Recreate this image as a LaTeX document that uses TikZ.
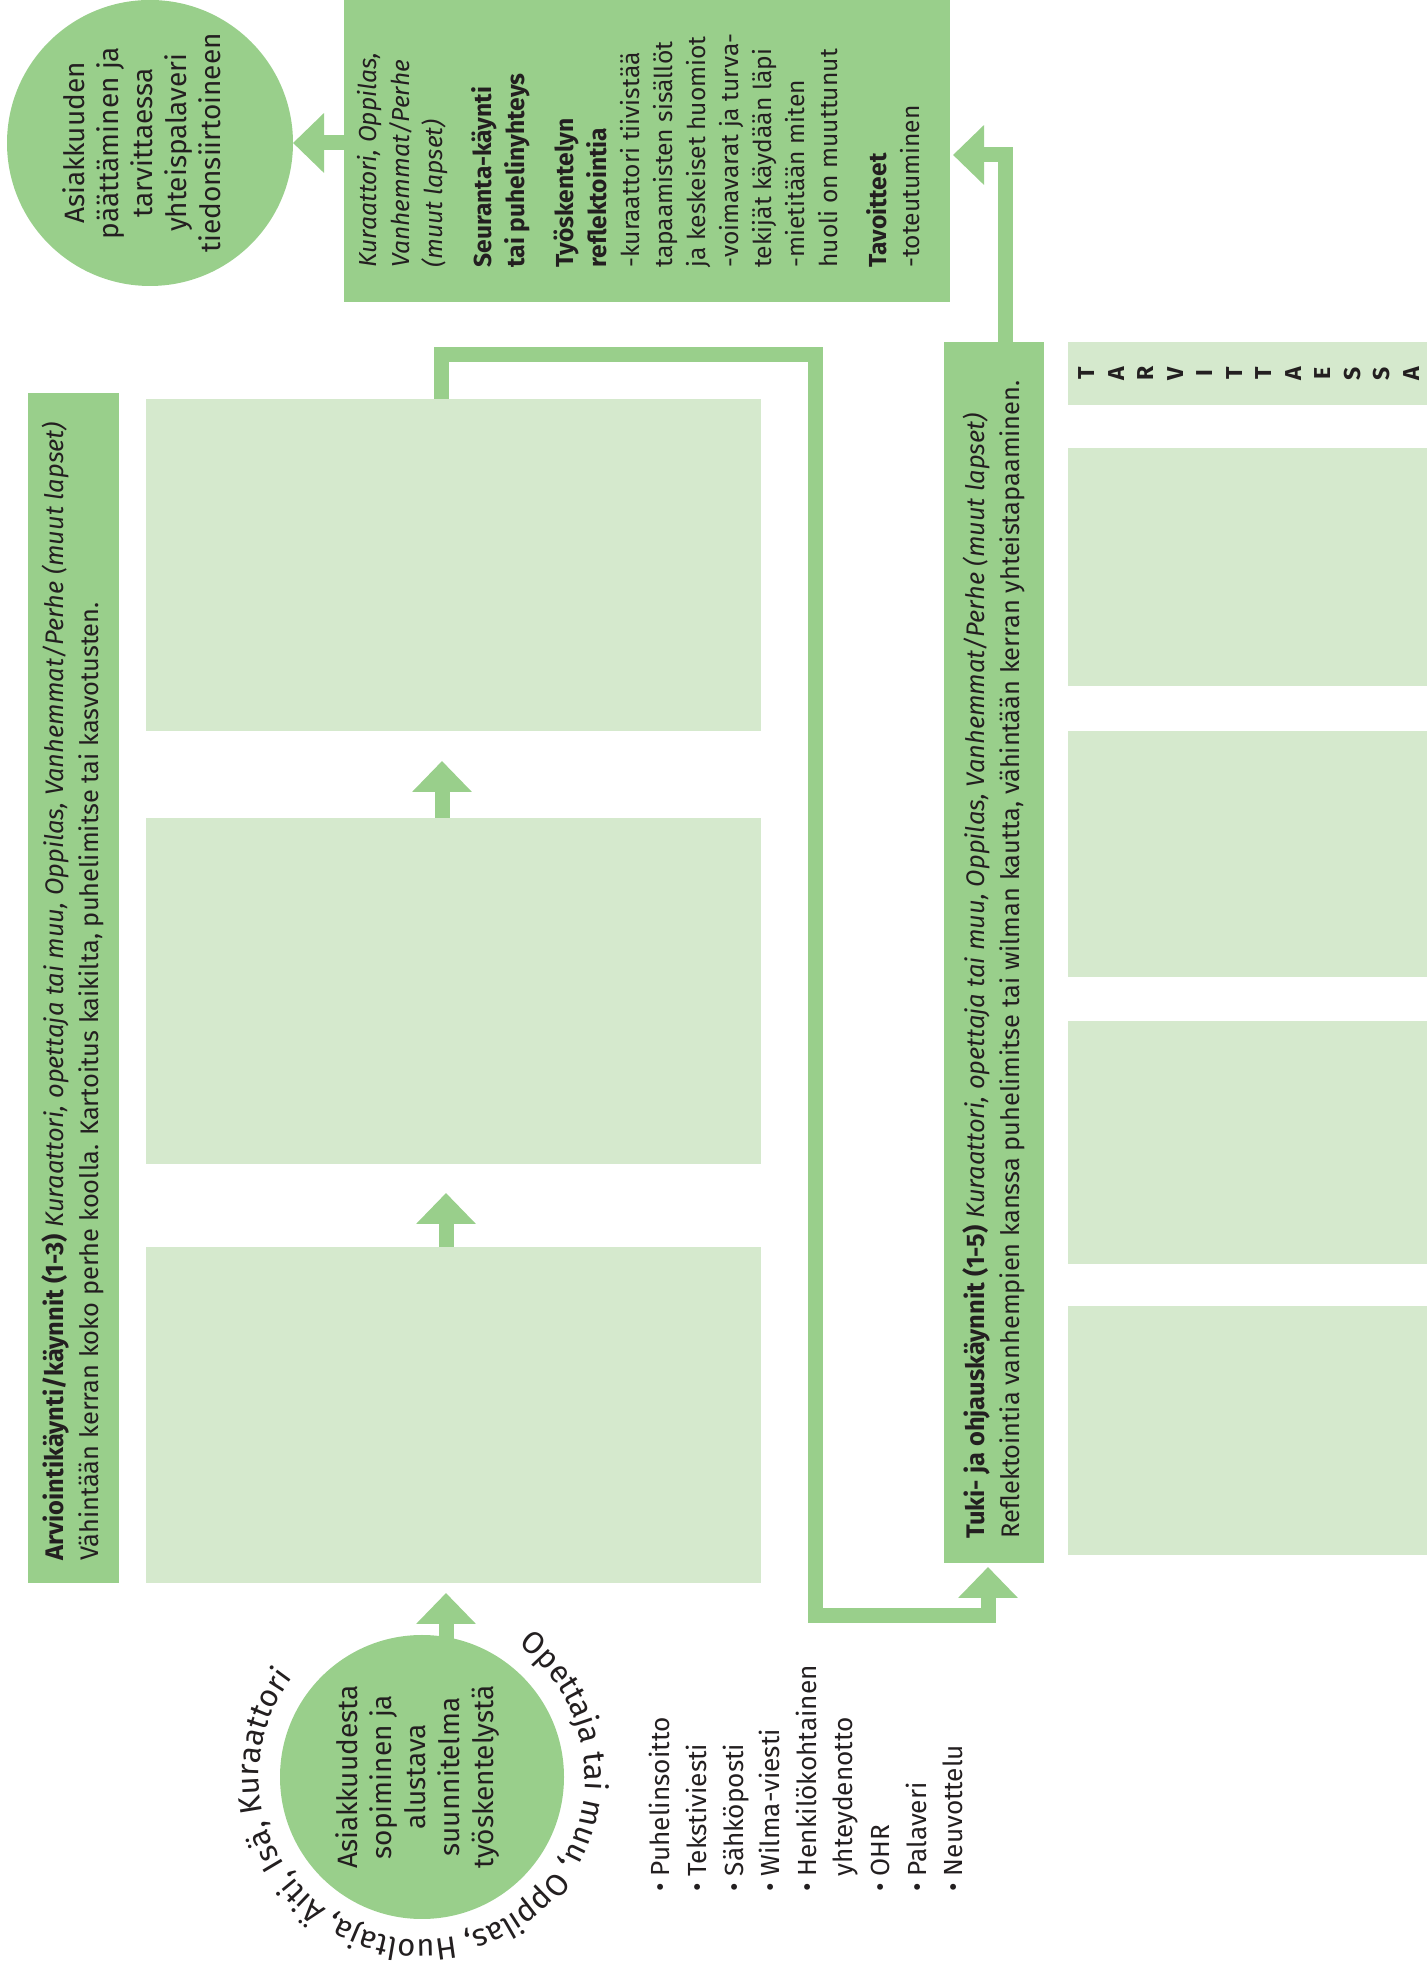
\documentclass[tikz,border=0pt]{standalone}
\usepackage{fontspec}
\setmainfont{Fira Sans}
\usetikzlibrary{arrows.meta,positioning,calc,decorations.text}
\definecolor{dkgreen}{RGB}{153,207,139}
\definecolor{ltgreen}{RGB}{213,233,205}
\definecolor{ink}{RGB}{35,31,32}

\begin{document}
\begin{tikzpicture}[x=0.5pt, y=0.5pt,
    dkbox/.style={fill=dkgreen, inner sep=0pt, outer sep=0pt},
    ltbox/.style={fill=ltgreen, inner sep=0pt, outer sep=0pt, minimum width=307.5pt},
    rbox/.style={fill=ltgreen, inner sep=0pt, outer sep=0pt, minimum width=179.5pt},
    disc/.style={circle, fill=dkgreen, inner sep=0pt, outer sep=0pt},
    vtext/.style={rotate=90, text=ink, inner sep=0pt, align=left, font=\fontsize{12.7}{17.5}\selectfont},
    disctext/.style={rotate=90, text=ink, inner sep=0pt, align=center, font=\fontsize{14}{17}\selectfont},
    tletter/.style={rotate=90, text=ink, inner sep=0pt, font=\bfseries\fontsize{11.5}{11.5}\selectfont},
    flow/.style={draw=dkgreen, line width=7.5pt, -{Triangle[length=15.5pt, width=29pt]}}]
  \useasboundingbox (0,0) rectangle (1427,1970);

  % top row
  \node[disc, minimum size=143pt] (endc) at (150,1827) {};
  \node[disctext] (endtxt) at ([xshift=-4pt]endc.center) {Asiakkuuden\\päättäminen ja\\tarvittaessa\\yhteispalaveri\\tiedonsiirtoineen};
  \node[dkbox, minimum width=303pt, minimum height=151pt] (followup) at (647,1819) {};
  \node[vtext, font=\fontsize{12.3}{16.5}\selectfont, anchor=north west] (followtxt) at ([xshift=6.5pt, yshift=17pt]followup.south west) {%
    \textit{Kuraattori, Oppilas,}\\
    \textit{Vanhemmat/Perhe}\\
    \textit{(muut lapset)}\\[8pt]
    \textbf{Seuranta-käynti}\\
    \textbf{tai puhelinyhteys}\\[8pt]
    \textbf{Työskentelyn}\\
    \textbf{reflektointia}\\
    -kuraattori tiivistää\\
    tapaamisten sisällöt\\
    ja keskeiset huomiot\\
    -voimavarat ja turva-\\
    tekijät käydään läpi\\
    -mietitään miten\\
    huoli on muuttunut\\[8pt]
    \textbf{Tavoitteet}\\
    -toteutuminen};

  % assessment visits
  \node[dkbox, minimum width=45.5pt, minimum height=595pt] (arvio) at (73.5,982) {};
  \node[vtext, anchor=north west] (arviotxt) at ([xshift=6.5pt, yshift=11pt]arvio.south west) {\textbf{Arviointikäynti/käynnit (1-3)} \textit{Kuraattori, opettaja tai muu, Oppilas, Vanhemmat/Perhe (muut lapset)}\\Vähintään kerran koko perhe koolla. Kartoitus kaikilta, puhelimitse tai kasvotusten.};
  \node[ltbox, minimum height=166pt] (arv3) at (453.5,1405) {};
  \node[ltbox, minimum height=173pt, below=43.5pt of arv3] (arv2) {};
  \node[ltbox, minimum height=168pt, below=41.5pt of arv2] (arv1) {};

  % support visits
  \node[dkbox, minimum width=50pt, minimum height=610.5pt] (tuki) at (994,1017.5) {};
  \node[vtext, anchor=north west] (tukitxt) at ([xshift=9pt, yshift=12pt]tuki.south west) {\textbf{Tuki- ja ohjauskäynnit (1-5)} \textit{Kuraattori, opettaja tai muu, Oppilas, Vanhemmat/Perhe (muut lapset)}\\Reflektointia vanhempien kanssa puhelimitse tai wilman kautta, vähintään kerran yhteistapaaminen.};

  % optional column
  \node[rbox, minimum height=31.5pt] (tarv) at (1247.5,1596.5) {};
  \foreach \ch [count=\i] in {T,A,R,V,I,T,T,A,E,S,S,A}
    \node[tletter] (tl\i) at ([xshift={9.5pt+(\i-1)*14.75pt}]tarv.west) {\ch};
  \node[rbox, minimum height=119pt, below=21.5pt of tarv] (rb1) {};
  \node[rbox, minimum height=123pt, below=22.5pt of rb1] (rb2) {};
  \node[rbox, minimum height=121.5pt, below=22pt of rb2] (rb3) {};
  \node[rbox, minimum height=124.5pt, below=21pt of rb3] (rb4) {};

  % start
  \node[disc, minimum size=142pt] (start) at (422,193) {};
  \node[disctext] (starttxt) at ([xshift=-2pt]start.center) {Asiakkuudesta\\sopiminen ja\\alustava\\suunnitelma\\työskentelystä};
  \path[decorate, decoration={text along path, text align=left,
      text={|\fontsize{15.5}{15.5}\selectfont\color{ink}|Opettaja tai muu, Oppilas, Huoltaja, Äiti, Isä, Kuraattori}}]
    ([shift={(54:163)}]start.center) arc[start angle=54, end angle=-260, radius=163];
  \node[vtext, font=\fontsize{13.1}{18.3}\selectfont, anchor=north west] (channels) at (649,78) {%
    • Puhelinsoitto\\
    • Tekstiviesti\\
    • Sähköposti\\
    • Wilma-viesti\\
    • Henkilökohtainen\\
    \hphantom{• }yhteydenotto\\
    • OHR\\
    • Palaveri\\
    • Neuvottelu};

  % connectors
  \coordinate (looptop) at (815,1615);
  \coordinate (loopbot) at (815,354);
  \coordinate (fbend) at (1005,1815);
  \draw[flow, shorten >=5pt] ([xshift=12pt, yshift=-3pt]start.north) -- ([xshift=12pt]start.north |- arv1.south);
  \draw[flow, shorten >=14.5pt] ([xshift=-3.75pt]arv1.north) -- ([xshift=-3.75pt]arv1.north |- arv2.south);
  \draw[flow, shorten >=15pt] ([xshift=-5.75pt]arv2.north) -- ([xshift=-5.75pt]arv2.north |- arv3.south);
  \draw[flow, shorten >=2pt] ([xshift=-6.25pt]arv3.north) |- (looptop) -- (loopbot) -| ([xshift=-3pt]tuki.south);
  \draw[flow] ([xshift=5.5pt]tuki.north) -- (fbend) -- ([xshift=1.5pt]followup.east |- fbend);
  \draw[flow] (followup.west |- endc.east) -- (endc.east);
\end{tikzpicture}
\end{document}
